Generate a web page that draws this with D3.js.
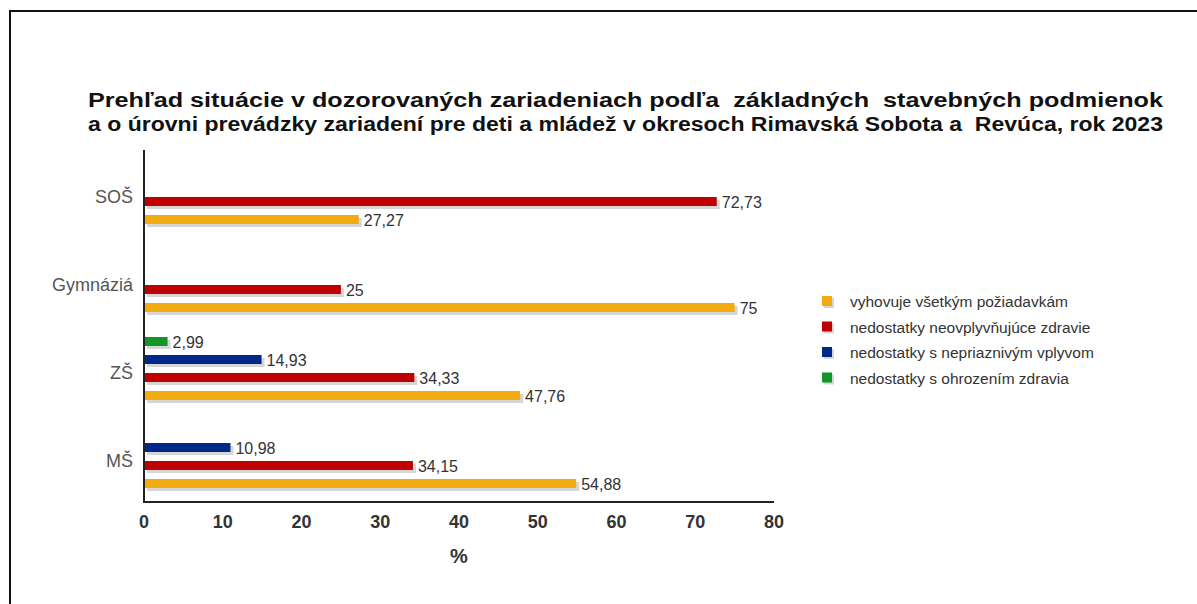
<!DOCTYPE html>
<html>
<head>
<meta charset="utf-8">
<title>Prehľad situácie</title>
<script src="https://cdn.jsdelivr.net/npm/d3@7"></script>
<style>
  body { margin: 0; background: #fff; }
  text { font-family: "Liberation Sans", Arial, sans-serif; white-space: pre; }
</style>
</head>
<body>
<svg width="1197" height="604"></svg>
<script>
// data
var categories = ["SOŠ", "Gymnáziá", "ZŠ", "MŠ"];
var seriesNames = [
  "vyhovuje všetkým požiadavkám",
  "nedostatky neovplyvňujúce zdravie",
  "nedostatky s nepriaznivým vplyvom",
  "nedostatky s ohrozením zdravia"
];
var seriesColors = ["#f2ac12", "#c00000", "#00288a", "#12962a"];
var vyhovuje = [27.27, 75, 47.76, 54.88];
var neovplyvnujuce = [72.73, 25, 34.33, 34.15];
var nepriaznivy = [null, null, 14.93, 10.98];
var ohrozenie = [null, null, 2.99, null];
var seriesValues = [vyhovuje, neovplyvnujuce, nepriaznivy, ohrozenie];
var xTicks = [0, 10, 20, 30, 40, 50, 60, 70, 80];
var titleLines = [
  "Prehľad situácie v dozorovaných zariadeniach podľa  základných  stavebných podmienok",
  "a o úrovni prevádzky zariadení pre deti a mládež v okresoch Rimavská Sobota a  Revúca, rok 2023"
];

var svg = d3.select("svg");

// frame
svg.append("rect")
  .attr("x", 10).attr("y", 11)
  .attr("width", 1210).attr("height", 620)
  .attr("fill", "none").attr("stroke", "#111").attr("stroke-width", 2);

// title
svg.append("g").selectAll("text")
  .data(titleLines)
  .enter().append("text")
  .attr("x", 88)
  .attr("y", function(d, i) { return 107 + i * 24; })
  .attr("textLength", 1075)
  .attr("lengthAdjust", "spacingAndGlyphs")
  .attr("font-size", 20)
  .attr("font-weight", "bold")
  .attr("fill", "#111")
  .text(function(d) { return d; });

var plotLeft = 144, plotRight = 774, plotTop = 150, plotBottom = 502;

var x = d3.scaleLinear().domain([0, 80]).range([plotLeft, plotRight]);
var y = d3.scaleBand().domain(categories).range([153, 505]);
// slots inside a category, top to bottom: green, blue, red, orange
var slot = d3.scaleBand().domain([3, 2, 1, 0]).range([8, 80]);
var barH = 9;

// flatten
var bars = [];
categories.forEach(function(c, ci) {
  seriesValues.forEach(function(vals, si) {
    if (vals[ci] != null) bars.push({cat: c, s: si, v: vals[ci]});
  });
});

var g = svg.append("g");

// shadows
g.selectAll(".shadow")
  .data(bars).enter().append("rect")
  .attr("class", "shadow")
  .attr("x", x(0) + 3)
  .attr("y", function(d) { return y(d.cat) + slot(d.s) + 3; })
  .attr("width", function(d) { return x(d.v) - x(0); })
  .attr("height", barH)
  .attr("fill", "#d6d6d6");

g.selectAll(".bar")
  .data(bars).enter().append("rect")
  .attr("class", "bar")
  .attr("x", x(0) + 1)
  .attr("y", function(d) { return y(d.cat) + slot(d.s); })
  .attr("width", function(d) { return x(d.v) - x(0) - 1; })
  .attr("height", barH)
  .attr("fill", function(d) { return seriesColors[d.s]; });

g.selectAll(".val")
  .data(bars).enter().append("text")
  .attr("class", "val")
  .attr("x", function(d) { return x(d.v) + 5; })
  .attr("y", function(d) { return y(d.cat) + slot(d.s) + barH / 2 + 6; })
  .attr("font-size", 16)
  .attr("fill", "#333")
  .text(function(d) { return String(d.v).replace(".", ","); });

// axes lines
svg.append("line")
  .attr("x1", plotLeft).attr("x2", plotLeft)
  .attr("y1", plotTop).attr("y2", plotBottom)
  .attr("stroke", "#222").attr("stroke-width", 2);
svg.append("line")
  .attr("x1", plotLeft - 1).attr("x2", plotRight)
  .attr("y1", plotBottom).attr("y2", plotBottom)
  .attr("stroke", "#222").attr("stroke-width", 2);

// x tick labels
svg.append("g").selectAll("text")
  .data(xTicks).enter().append("text")
  .attr("x", function(d) { return x(d); })
  .attr("y", 528)
  .attr("text-anchor", "middle")
  .attr("font-size", 18)
  .attr("font-weight", "bold")
  .attr("fill", "#333")
  .text(function(d) { return d; });

svg.append("text")
  .attr("x", 459).attr("y", 563)
  .attr("text-anchor", "middle")
  .attr("font-size", 20)
  .attr("font-weight", "bold")
  .attr("fill", "#333")
  .text("%");

// category labels
svg.append("g").selectAll("text")
  .data(categories).enter().append("text")
  .attr("x", 133)
  .attr("y", function(d) { return y(d) + y.bandwidth() / 2 + 6; })
  .attr("text-anchor", "end")
  .attr("font-size", 18)
  .attr("fill", "#555")
  .text(function(d) { return d; });

// legend
var legend = svg.append("g").selectAll("g")
  .data(seriesNames).enter().append("g")
  .attr("transform", function(d, i) { return "translate(822," + (296 + i * 25.5) + ")"; });
legend.append("rect")
  .attr("x", 2).attr("y", 2).attr("width", 10).attr("height", 10)
  .attr("fill", "#d6d6d6");
legend.append("rect")
  .attr("width", 10).attr("height", 10)
  .attr("fill", function(d, i) { return seriesColors[i]; });
legend.append("text")
  .attr("x", 28).attr("y", 11)
  .attr("font-size", 15.5)
  .attr("fill", "#333")
  .text(function(d) { return d; });
</script>
</body>
</html>
